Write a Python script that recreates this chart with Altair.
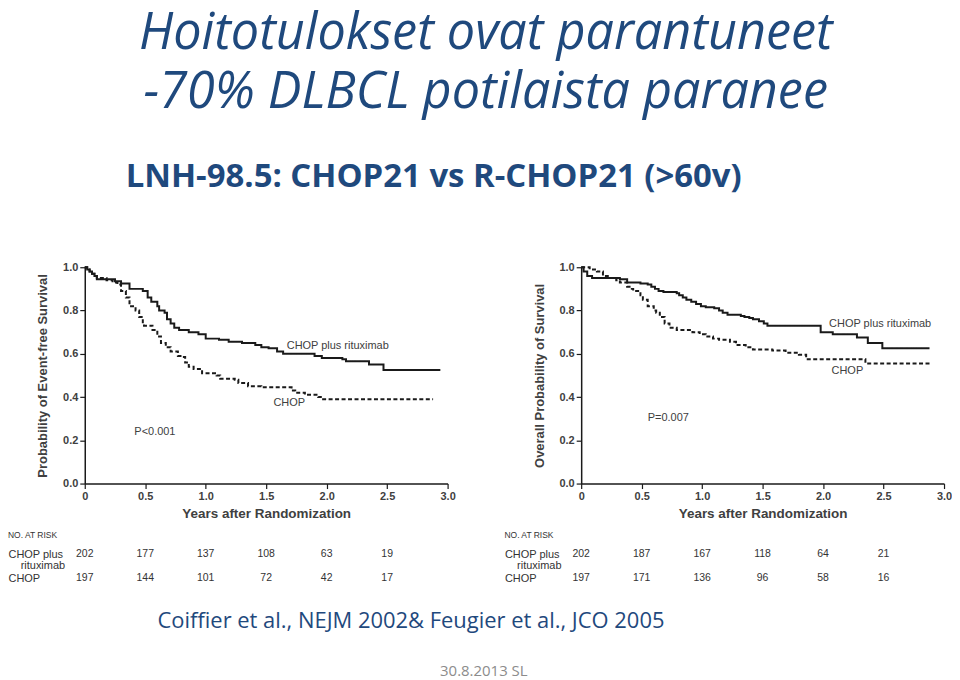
import altair as alt
import pandas as pd

# ---------------- data ----------------
# Event-free survival (left panel)
efs_rchop_t = [0, 0.02, 0.04, 0.06, 0.08, 0.10, 0.25, 0.30, 0.37, 0.48, 0.52, 0.55, 0.60, 0.615, 0.66,
               0.68, 0.71, 0.74, 0.78, 0.86, 0.94, 1.00, 1.11, 1.19, 1.30, 1.41, 1.46, 1.52, 1.59, 1.64,
               1.90, 1.96, 2.13, 2.16, 2.35, 2.47, 2.94]
efs_rchop_s = [1.0, 0.99, 0.98, 0.97, 0.96, 0.945, 0.935, 0.925, 0.90, 0.89, 0.86, 0.84, 0.82, 0.80, 0.79,
               0.76, 0.74, 0.72, 0.71, 0.70, 0.69, 0.67, 0.665, 0.655, 0.65, 0.64, 0.63, 0.625, 0.61, 0.60,
               0.59, 0.58, 0.575, 0.565, 0.55, 0.525, 0.525]
efs_chop_t = [0, 0.02, 0.04, 0.06, 0.08, 0.10, 0.18, 0.23, 0.27, 0.30, 0.34, 0.37, 0.42, 0.45, 0.48, 0.49,
              0.56, 0.60, 0.63, 0.67, 0.71, 0.77, 0.81, 0.83, 0.86, 0.90, 0.97, 1.09, 1.12, 1.24, 1.27,
              1.35, 1.46, 1.71, 1.74, 1.82, 1.93, 1.96, 2.88]
efs_chop_s = [1.0, 0.99, 0.98, 0.97, 0.96, 0.95, 0.94, 0.93, 0.92, 0.89, 0.86, 0.82, 0.80, 0.77, 0.74, 0.73,
              0.71, 0.68, 0.65, 0.63, 0.61, 0.59, 0.585, 0.56, 0.54, 0.53, 0.51, 0.50, 0.485, 0.48, 0.465,
              0.45, 0.445, 0.43, 0.42, 0.41, 0.40, 0.39, 0.39]

# Overall survival (right panel)
os_rchop_t = [0, 0.02, 0.05, 0.09, 0.32, 0.38, 0.49, 0.55, 0.58, 0.61, 0.64, 0.68, 0.79, 0.81, 0.84, 0.87,
              0.91, 0.95, 0.99, 1.03, 1.10, 1.14, 1.17, 1.21, 1.32, 1.35, 1.39, 1.42, 1.47, 1.51, 1.54,
              1.98, 2.08, 2.28, 2.37, 2.49, 2.88]
os_rchop_s = [1.0, 0.98, 0.96, 0.95, 0.945, 0.93, 0.925, 0.92, 0.91, 0.90, 0.89, 0.885, 0.88, 0.87, 0.86, 0.85,
              0.84, 0.83, 0.82, 0.815, 0.81, 0.80, 0.79, 0.78, 0.775, 0.77, 0.765, 0.76, 0.75, 0.74, 0.73,
              0.70, 0.69, 0.675, 0.65, 0.625, 0.625]
os_chop_t = [0, 0.07, 0.13, 0.18, 0.22, 0.29, 0.32, 0.38, 0.40, 0.43, 0.49, 0.51, 0.55, 0.60, 0.62, 0.65,
             0.69, 0.73, 0.79, 0.92, 0.98, 1.03, 1.09, 1.14, 1.23, 1.28, 1.36, 1.42, 1.58, 1.69, 1.80,
             1.86, 2.35, 2.90]
os_chop_s = [1.0, 0.99, 0.98, 0.96, 0.95, 0.94, 0.93, 0.91, 0.90, 0.89, 0.87, 0.85, 0.82, 0.80, 0.79, 0.77,
             0.74, 0.72, 0.71, 0.70, 0.69, 0.68, 0.67, 0.665, 0.655, 0.64, 0.63, 0.62, 0.615, 0.605, 0.595,
             0.575, 0.555, 0.555]

# Numbers at risk
risk_times = [0, 0.5, 1.0, 1.5, 2.0, 2.5]
efs_risk_rchop = [202, 177, 137, 108, 63, 19]
efs_risk_chop = [197, 144, 101, 72, 42, 17]
os_risk_rchop = [202, 187, 167, 118, 64, 21]
os_risk_chop = [197, 171, 136, 96, 58, 16]

# In-plot labels (data coordinates)
efs_labels = ["CHOP plus rituximab", "CHOP", "P<0.001"]
efs_label_t = [1.67, 1.56, 0.41]
efs_label_s = [0.636, 0.373, 0.24]
os_labels = ["CHOP plus rituximab", "CHOP", "P=0.007"]
os_label_t = [2.05, 2.07, 0.55]
os_label_s = [0.737, 0.521, 0.304]

ARMS = ["CHOP plus rituximab", "CHOP"]

# ---------------- styling ----------------
AX_FONT = "Liberation Sans"
SLIDE_FONT = "Open Sans"
AX_COL = "#404040"
LINE_COL = "#1a1a1a"
BLUE = "#1f497d"
W, H = 364, 217


def km_frame(t1, s1, t2, s2):
    a = pd.DataFrame({"t": t1, "s": s1, "arm": ARMS[0]})
    b = pd.DataFrame({"t": t2, "s": s2, "arm": ARMS[1]})
    return pd.concat([a, b], ignore_index=True)


def km_panel(df, ytitle, labels, lt, ls):
    xs = alt.Scale(domain=[0, 3], nice=False)
    ys = alt.Scale(domain=[0, 1], nice=False)
    lines = alt.Chart(df).mark_line(interpolate="step-after", color=LINE_COL, strokeWidth=2).encode(
        x=alt.X("t:Q", scale=xs, axis=alt.Axis(
            title="Years after Randomization", values=[0, 0.5, 1.0, 1.5, 2.0, 2.5, 3.0],
            labelExpr="datum.value == 0 ? '0' : format(datum.value, '.1f')",
            grid=False, tickSize=5, tickColor=LINE_COL, tickWidth=1.2,
            domainColor=LINE_COL, domainWidth=1.5, labelFlush=False, labelPadding=2,
            labelFont=AX_FONT, labelFontSize=11, labelFontWeight="bold", labelColor=AX_COL,
            titleFont=AX_FONT, titleFontSize=13.5, titleFontWeight="bold", titleColor=AX_COL,
            titlePadding=5)),
        y=alt.Y("s:Q", scale=ys, axis=alt.Axis(
            title=ytitle, values=[i / 10 for i in range(11)],
            labelExpr="round(datum.value * 10) % 2 == 0 ? format(datum.value, '.1f') : ''",
            grid=False, tickSize=5, tickColor=LINE_COL, tickWidth=1.2,
            domainColor=LINE_COL, domainWidth=1.5, labelPadding=2, labelFlush=False,
            labelFont=AX_FONT, labelFontSize=11, labelFontWeight="bold", labelColor=AX_COL,
            titleFont=AX_FONT, titleFontSize=13, titleFontWeight="bold", titleColor=AX_COL,
            titlePadding=13)),
        strokeDash=alt.StrokeDash("arm:N", scale=alt.Scale(domain=ARMS, range=[[1, 0], [4, 2.5]]),
                                  legend=None),
    )
    ann = alt.Chart(pd.DataFrame({"t": lt, "s": ls, "label": labels})).mark_text(
        align="left", baseline="middle", font=AX_FONT, fontSize=11, color=AX_COL
    ).encode(x=alt.X("t:Q", scale=xs), y=alt.Y("s:Q", scale=ys), text="label:N")
    return alt.layer(lines, ann).properties(width=W, height=H)


def risk_panel(r1, r2):
    df = pd.DataFrame({
        "t": risk_times + risk_times,
        "row": ["rchop"] * len(r1) + ["chop"] * len(r2),
        "n": r1 + r2,
    })
    return alt.Chart(df).mark_text(
        align="center", baseline="middle", font=AX_FONT, fontSize=10.5, color="#333333"
    ).encode(
        x=alt.X("t:Q", scale=alt.Scale(domain=[0, 3], nice=False), axis=None),
        y=alt.Y("row:N", scale=alt.Scale(domain=["rchop", "chop"]), axis=alt.Axis(
            title=None, domain=False, ticks=False, tickSize=0, grid=False,
            labelAlign="left", labelPadding=77, labelBaseline="top", labelOffset=-6,
            labelLineHeight=11,
            labelExpr="datum.value == 'rchop' ? ['CHOP plus', '\u200b\u00a0\u00a0\u00a0\u00a0rituximab'] : 'CHOP'",
            labelFont=AX_FONT, labelFontSize=11, labelColor="#333333")),
        text="n:Q",
    ).properties(width=W, height=48, title=alt.TitleParams(
        "NO. AT RISK", anchor="start", frame="bounds", font=AX_FONT, fontSize=8.5,
        fontWeight="normal", color="#333333", offset=3))


efs = km_frame(efs_rchop_t, efs_rchop_s, efs_chop_t, efs_chop_s)
osd = km_frame(os_rchop_t, os_rchop_s, os_chop_t, os_chop_s)

col1 = alt.vconcat(
    km_panel(efs, "Probability of Event-free Survival", efs_labels, efs_label_t, efs_label_s),
    risk_panel(efs_risk_rchop, efs_risk_chop), spacing=10)
col2 = alt.vconcat(
    km_panel(osd, "Overall Probability of Survival", os_labels, os_label_t, os_label_s),
    risk_panel(os_risk_rchop, os_risk_chop), spacing=10)

panels = alt.hconcat(col1, col2, spacing=49).properties(title=alt.TitleParams(
    "LNH-98.5: CHOP21 vs R-CHOP21 (>60v)", anchor="start", frame="bounds", dx=118,
    font=SLIDE_FONT, fontSize=33, fontWeight="bold", color=BLUE, offset=68))

with_ref = alt.vconcat(panels).properties(title=alt.TitleParams(
    "Coiffier et al., NEJM 2002& Feugier et al., JCO 2005", orient="bottom", anchor="start",
    frame="bounds", dx=150, font=SLIDE_FONT, fontSize=22, fontWeight="normal", color=BLUE, offset=21))

with_date = alt.vconcat(with_ref).properties(title=alt.TitleParams(
    "30.8.2013 SL", orient="bottom", anchor="middle", dx=4, font=SLIDE_FONT, fontSize=15,
    fontWeight="normal", color="#8c8c8c", offset=32))

chart = alt.vconcat(with_date).properties(
    title=alt.TitleParams(
        ["Hoitotulokset ovat parantuneet", "-70% DLBCL potilaista paranee"],
        anchor="middle", frame="bounds", dx=6, font=SLIDE_FONT, fontSize=50.5, fontStyle="italic",
        fontWeight="normal", lineHeight=59, color=BLUE, offset=42),
    padding={"left": 0, "top": 0, "right": 0, "bottom": 0},
).configure_view(stroke=None)

chart.save("out.html", embed_options={"renderer": "svg", "actions": False})
